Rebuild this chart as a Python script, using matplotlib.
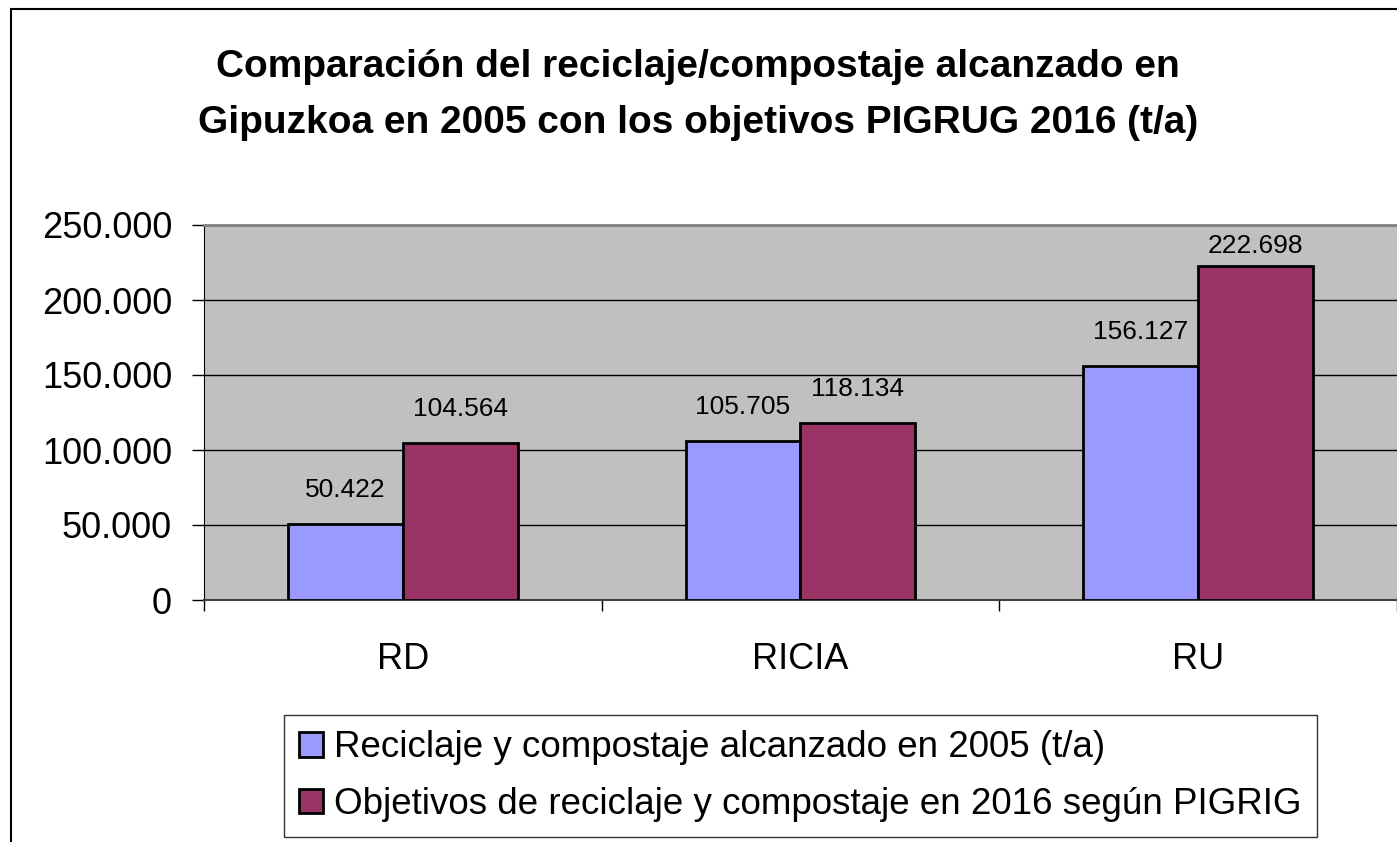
import numpy as np
import matplotlib
matplotlib.use("Agg")
import matplotlib.pyplot as plt
from matplotlib.patches import Rectangle

plt.rcParams['font.family'] = ['Liberation Sans', 'DejaVu Sans']

# data
categories = ['RD', 'RICIA', 'RU']
alcanzado_2005 = [50422, 105705, 156127]
objetivos_2016 = [104564, 118134, 222698]
series_names = ['Reciclaje y compostaje alcanzado en 2005 (t/a)',
                'Objetivos de reciclaje y compostaje en 2016 según PIGRIG']
title = ('Comparación del reciclaje/compostaje alcanzado en\n'
         'Gipuzkoa en 2005 con los objetivos PIGRUG 2016 (t/a)')
yticks = [0, 50000, 100000, 150000, 200000, 250000]


def fmt_thousands(v):
    # spanish style: dot as thousands separator
    return f"{int(v):,}".replace(',', '.')


fig = plt.figure(figsize=(13.97, 8.42), dpi=100)

# outer chart border (cut off at right and bottom)
fig.patches.append(Rectangle((11 / 1397, -0.1), 1.2, (842 - 9) / 842 + 0.1,
                             transform=fig.transFigure, fill=False,
                             edgecolor='black', linewidth=1.5))

ax = fig.add_axes([204 / 1397, (842 - 600) / 842, (1397 - 204) / 1397, 375 / 842])
ax.set_facecolor('#C0C0C0')

x = np.arange(len(categories))
w = 0.289
b1 = ax.bar(x - w / 2, alcanzado_2005, w, color='#9999FF', edgecolor='black',
            linewidth=2, label=series_names[0], zorder=3)
b2 = ax.bar(x + w / 2, objetivos_2016, w, color='#993366', edgecolor='black',
            linewidth=2, label=series_names[1], zorder=3)

# value labels above bars
top_cap = 231300
for bars, vals in [(b1, alcanzado_2005), (b2, objetivos_2016)]:
    for rect, v in zip(bars, vals):
        ax.text(rect.get_x() + rect.get_width() / 2, min(v + 18000, top_cap),
                fmt_thousands(v), ha='center', va='baseline', fontsize=19,
                zorder=4)

ax.set_xlim(-0.5, 2.5)
ax.set_ylim(0, 250000)
ax.set_yticks(yticks)
ax.set_yticklabels([fmt_thousands(t) for t in yticks])
ax.yaxis.grid(True, color='black', linewidth=1, zorder=1)
ax.set_axisbelow(True)

ax.set_xticks(x)
ax.set_xticklabels(categories)
ax.set_xticks([-0.5, 0.5, 1.5, 2.5], minor=True)
ax.tick_params(axis='x', which='major', length=0, pad=30, labelsize=26)
ax.tick_params(axis='x', which='minor', length=8, width=1, direction='out')
ax.tick_params(axis='y', length=9, width=1, pad=14, labelsize=26)

ax.spines['top'].set_color('#808080')
ax.spines['top'].set_linewidth(2)
ax.spines['right'].set_visible(False)
ax.spines['left'].set_color('black')
ax.spines['bottom'].set_color('#404040')
ax.spines['bottom'].set_linewidth(1.5)

fig.suptitle(title, x=698 / 1397, y=1 - 49 / 842, va='top', fontsize=28,
             fontweight='bold', linespacing=1.72)

leg = fig.legend(handles=[b1, b2], loc='upper left',
                 bbox_to_anchor=(284 / 1397, 1 - 715 / 842),
                 fontsize=26.5, frameon=True, fancybox=False, edgecolor='black',
                 handlelength=0.65, handleheight=0.65, handletextpad=0.3,
                 labelspacing=0.58, borderpad=0.42, borderaxespad=0)
leg.get_frame().set_linewidth(1)

fig.savefig('out.png', dpi=100)
